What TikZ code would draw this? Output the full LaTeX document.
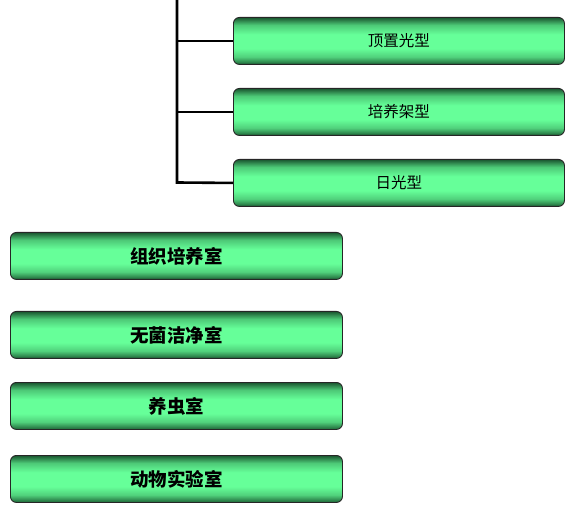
\documentclass[tikz,border=0pt]{standalone}
\usepackage{fontspec}
\newfontfamily\cjk{Noto Sans CJK SC}
\definecolor{dkgreen}{RGB}{30,100,55}
\definecolor{ltgreen}{RGB}{102,255,153}
\pgfdeclareverticalshading{greenbar}{100bp}{color(0bp)=(dkgreen); color(25bp)=(dkgreen); color(33bp)=(ltgreen!70!dkgreen); color(42bp)=(ltgreen); color(57bp)=(ltgreen); color(67bp)=(ltgreen!65!dkgreen); color(75bp)=(dkgreen!85!black); color(100bp)=(dkgreen)}
\tikzset{
  bar/.style={draw=black!85, line width=0.9pt, rounded corners=6pt, shade, shading=greenbar, anchor=north west, inner sep=0pt},
  topbar/.style={bar, minimum width=331pt, minimum height=47pt, font=\cjk\fontsize{15.5}{15.5}\selectfont},
  lowbar/.style={bar, minimum width=332pt, minimum height=47pt, font=\cjk\bfseries\fontsize{18.5}{18.5}\selectfont},
  trunk/.style={line width=2.6pt, black}
}
\begin{document}
\begin{tikzpicture}[x=1pt,y=-1pt]
\useasboundingbox (0,0) rectangle (578,518);
\node[topbar] (t1) at (233,17) {顶置光型};
\node[topbar] (t2) at (233,88) {培养架型};
\node[topbar] (t3) at (233,159) {日光型};
\coordinate (top) at (177,0);
\coordinate (j3) at (177,182.5);
\draw[trunk] (top) -- (j3) -- (t3.west);
\draw[trunk] (t1.west -| top) -- (t1.west);
\draw[trunk] (t2.west -| top) -- (t2.west);
\node[lowbar] (b1) at (10,232) {组织培养室};
\node[lowbar] (b2) at (10,311) {无菌洁净室};
\node[lowbar] (b3) at (10,382) {养虫室};
\node[lowbar] (b4) at (10,455) {动物实验室};
\end{tikzpicture}
\end{document}
